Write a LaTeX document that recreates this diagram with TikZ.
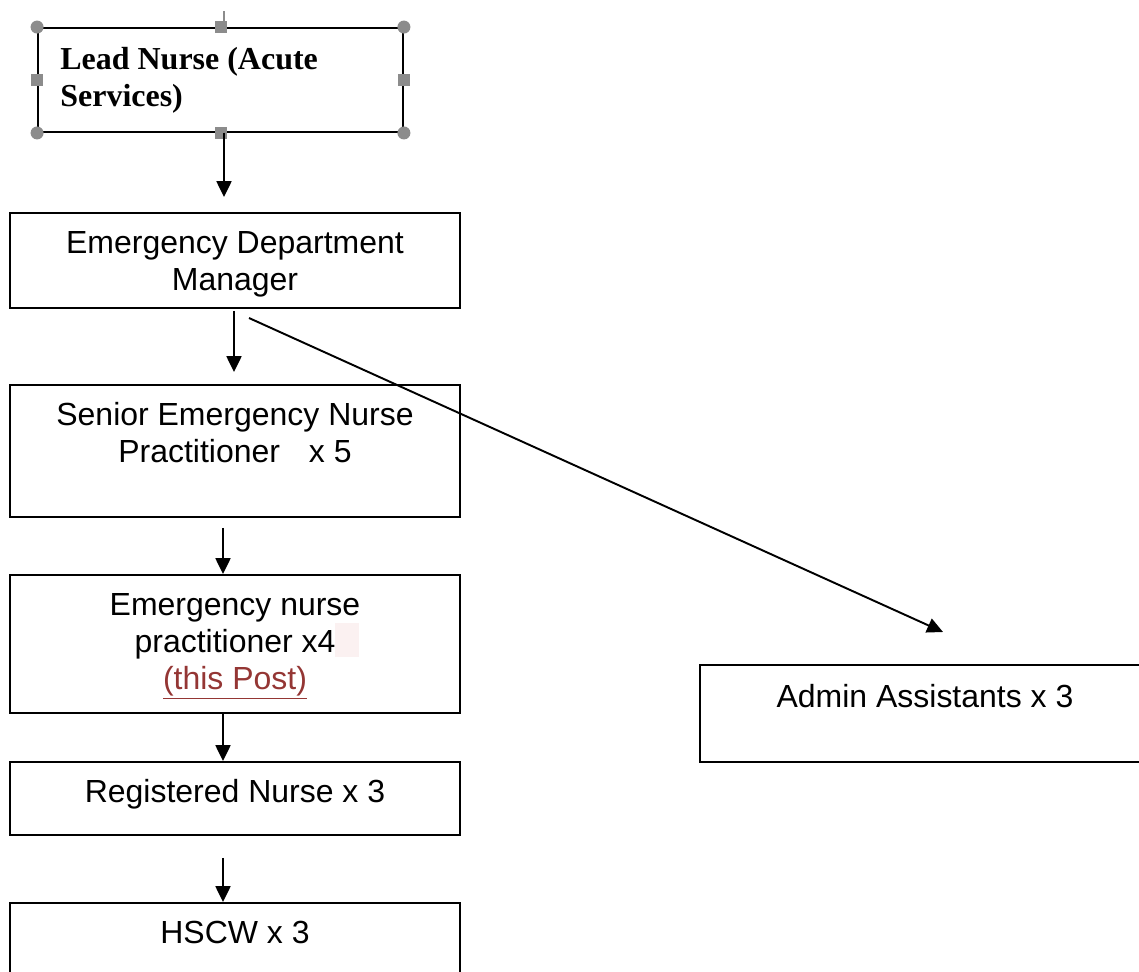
\documentclass[tikz,border=0pt]{standalone}
\usepackage{fontspec}
\setmainfont{Liberation Sans}
\newfontfamily\leadfont{Liberation Serif}
\usetikzlibrary{arrows.meta}
\definecolor{postred}{HTML}{943634}
\definecolor{handlegray}{HTML}{8C8C8C}
\definecolor{markpink}{HTML}{FBF1F1}

\begin{document}
\begin{tikzpicture}[x=0.02cm, y=-0.02cm,
    box/.style={draw, line width=1.1pt, minimum width=9cm, inner sep=0pt},
    role/.style={anchor=base, align=center, inner sep=0pt, font=\fontsize{18.2}{21}\selectfont},
    arrow/.style={line width=1.1pt, -{Triangle[length=9pt, width=8.5pt]}},
    corner/.style={circle, fill=handlegray, minimum size=0.26cm, inner sep=0pt},
    handle/.style={rectangle, fill=handlegray, minimum size=0.24cm, inner sep=0pt}]
    \useasboundingbox (0,0) rectangle (1139,971);
    \clip (0,0) rectangle (1139,971);

    % boxes
    \node[box, minimum width=7.3cm, minimum height=2.08cm] (lead) at (220.5,80) {};
    \node[box, minimum height=1.9cm] (edm) at (235,260.5) {};
    \node[box, minimum height=2.64cm] (senp) at (235,451) {};
    \node[box, minimum height=2.76cm] (enp) at (235,644) {};
    \node[box, minimum height=1.46cm] (rn) at (235,798.5) {};
    \node[box, minimum height=1.94cm] (hscw) at (235,951.5) {};
    \node[box, minimum height=1.94cm] (admin) at (925,713.5) {};

    % selection handles on the top box
    \coordinate (leadx) at (224,0);
    \draw[line width=1.1pt, handlegray] (leadx |- lead.north) -- ++(0,-16);
    \foreach \c in {north west, north east, south west, south east}
        \node[corner] at (lead.\c) {};
    \foreach \c in {north, south, west, east}
        \node[handle] at (lead.\c) {};

    % texts (base = baseline of the last line)
    \node[role, anchor=base west, align=left, font=\leadfont\bfseries\fontsize{18.2}{20.5}\selectfont]
        (lead-t) at (60,106) {Lead Nurse (Acute\\Services)};
    \node[role] (edm-t) at (235,290) {Emergency Department\\Manager};
    \node[role] (senp-t) at (235,462) {Senior Emergency Nurse\\Practitioner\hspace{16.5pt}x 5};
    \fill[markpink] (335,623) rectangle (359,657);
    \node[role] (enp-t) at (235,689) {Emergency nurse\\practitioner x4\\{\color{postred}\underline{(this Post)}}};
    \node[role] (rn-t) at (235,802) {Registered Nurse x 3};
    \node[role] (hscw-t) at (235,943) {HSCW x 3};
    \node[role] (admin-t) at (925,707) {Admin Assistants x 3};

    % connectors
    \coordinate (spine) at (223,0);
    \coordinate (diag-start) at (249,318);
    \coordinate (admin-in) at (943,632);
    \draw[arrow, shorten >=0.3cm] (leadx |- lead.south) -- (leadx |- edm.north);
    \draw[arrow, shorten <=0.04cm, shorten >=0.24cm] ([xshift=-0.02cm]edm.south) -- ([xshift=-0.02cm]senp.north);
    \draw[arrow, shorten <=0.2cm] (spine |- senp.south) -- (spine |- enp.north);
    \draw[arrow] (spine |- enp.south) -- (spine |- rn.north);
    \draw[arrow, shorten <=0.44cm] (spine |- rn.south) -- (spine |- hscw.north);
    \draw[arrow] (diag-start) -- (admin-in);
\end{tikzpicture}
\end{document}
